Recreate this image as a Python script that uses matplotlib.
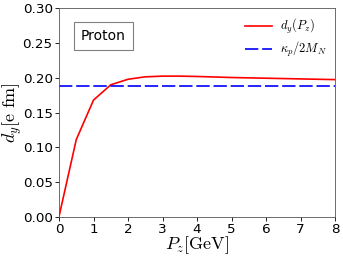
import matplotlib
matplotlib.use("Agg")
import matplotlib.pyplot as plt

pz = [0, 0.5, 1.0, 1.5, 2.0, 2.5, 3.0, 3.5, 4.0, 4.5, 5.0, 5.5, 6.0, 6.5, 7.0, 7.5, 8.0]
dy = [0.0, 0.111, 0.168, 0.190, 0.198, 0.2015, 0.2025, 0.2025, 0.202, 0.2013, 0.2005, 0.2, 0.1995, 0.199, 0.1985, 0.198, 0.1975]
kappa_line = 0.188

plt.rcParams['mathtext.fontset'] = 'cm'
fig = plt.figure(figsize=(3.43, 2.57), dpi=100)
ax = fig.add_axes([0.172, 0.157, 0.805, 0.81])
ax.plot(pz, dy, color='red', lw=1.2, label=r'$d_y(P_z)$')
ax.axhline(kappa_line, color='blue', lw=1.2, ls=(0, (8, 2.3)), label=r'$\kappa_p/2M_N$')
ax.set_xlim(0, 8)
ax.set_ylim(0, 0.30)
ax.set_xticks(range(0, 9))
ax.set_yticks([0, 0.05, 0.10, 0.15, 0.20, 0.25, 0.30])
ax.set_yticklabels(['0.00', '0.05', '0.10', '0.15', '0.20', '0.25', '0.30'])
ax.tick_params(labelsize=9.7, length=3, width=0.6, pad=1.5)
for s in ax.spines.values():
    s.set_linewidth(0.6)
    s.set_color('#555555')
ax.set_xlabel(r'$P_z[\rm GeV]$', fontsize=13, labelpad=-1)
ax.set_ylabel(r'$d_y[\rm e\ fm]$', fontsize=13)
ax.yaxis.set_label_coords(-0.128, 0.5)
ax.text(1.29, 0.260, 'Proton', fontsize=10, ha='center', va='center',
        bbox=dict(boxstyle='square,pad=0.5', fc='white', ec='gray', lw=0.8))
ax.legend(loc='upper right', frameon=False, fontsize=9, handlelength=2.2,
          handletextpad=0.6, borderaxespad=0.3, labelspacing=0.3)
fig.savefig('out.png', dpi=100)
